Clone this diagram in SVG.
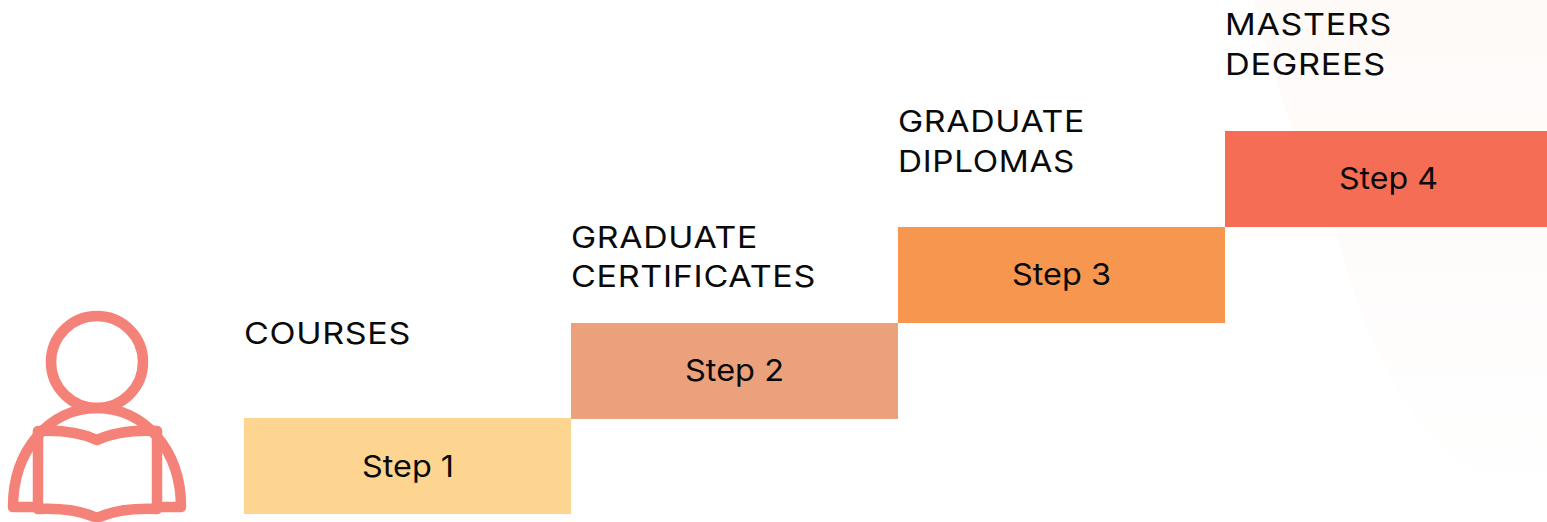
<svg xmlns="http://www.w3.org/2000/svg" width="1547" height="522" viewBox="0 0 1547 522">
<defs>
<linearGradient id="blob" x1="0" y1="0" x2="0" y2="1">
<stop offset="0" stop-color="#fefaf8"/>
<stop offset=".45" stop-color="#fefcfb"/>
<stop offset="1" stop-color="#ffffff"/>
</linearGradient>
</defs>
<style>
.lab{font-family:"Inter","Liberation Sans",sans-serif;font-size:30px;fill:#0a0a0a;letter-spacing:.6px}
.st{font-family:"Inter","Liberation Sans",sans-serif;font-size:30px;fill:#0a0a0a}
.ic{fill:none;stroke:#f58278;stroke-width:10.5;stroke-linecap:round;stroke-linejoin:round}
</style>
<rect width="1547" height="522" fill="#fff"/>
<path d="M1254 0C1270 70 1290 130 1330 210C1360 330 1400 450 1547 522V0Z" fill="url(#blob)"/>
<g id="reader">
<circle class="ic" cx="97" cy="362" r="46"/>
<path class="ic" d="M13 507C13 450 50 408 97 408C144 408 181 450 181 507H157M13 507H38"/>
<path class="ic" d="M38 431V509C60 508 80 510 97 518C114 510 135 508 157 509V431C135 430 114 432 97 440C80 432 60 430 38 431Z"/>
</g>
<g id="step1"><rect x="244" y="418" width="327" height="96" fill="#fdd490"/><text class="st" x="362" y="477" textLength="92" lengthAdjust="spacingAndGlyphs">Step 1</text><text class="lab" x="244" y="344" textLength="167" lengthAdjust="spacingAndGlyphs">COURSES</text></g>
<g id="step2"><rect x="571" y="323" width="327" height="96" fill="#eba27c"/><text class="st" x="685" y="381" textLength="99" lengthAdjust="spacingAndGlyphs">Step 2</text><text class="lab" x="571" y="248" textLength="187" lengthAdjust="spacingAndGlyphs">GRADUATE</text><text class="lab" x="571" y="287" textLength="245" lengthAdjust="spacingAndGlyphs">CERTIFICATES</text></g>
<g id="step3"><rect x="898" y="227" width="327" height="96" fill="#f7964f"/><text class="st" x="1012" y="285" textLength="99" lengthAdjust="spacingAndGlyphs">Step 3</text><text class="lab" x="898" y="132" textLength="187" lengthAdjust="spacingAndGlyphs">GRADUATE</text><text class="lab" x="898" y="172" textLength="177" lengthAdjust="spacingAndGlyphs">DIPLOMAS</text></g>
<g id="step4"><rect x="1225" y="131" width="322" height="96" fill="#f66d55"/><text class="st" x="1339" y="189" textLength="99" lengthAdjust="spacingAndGlyphs">Step 4</text><text class="lab" x="1225" y="35" textLength="167" lengthAdjust="spacingAndGlyphs">MASTERS</text><text class="lab" x="1225" y="75" textLength="161" lengthAdjust="spacingAndGlyphs">DEGREES</text></g>
<g id="connectors"></g>
</svg>
